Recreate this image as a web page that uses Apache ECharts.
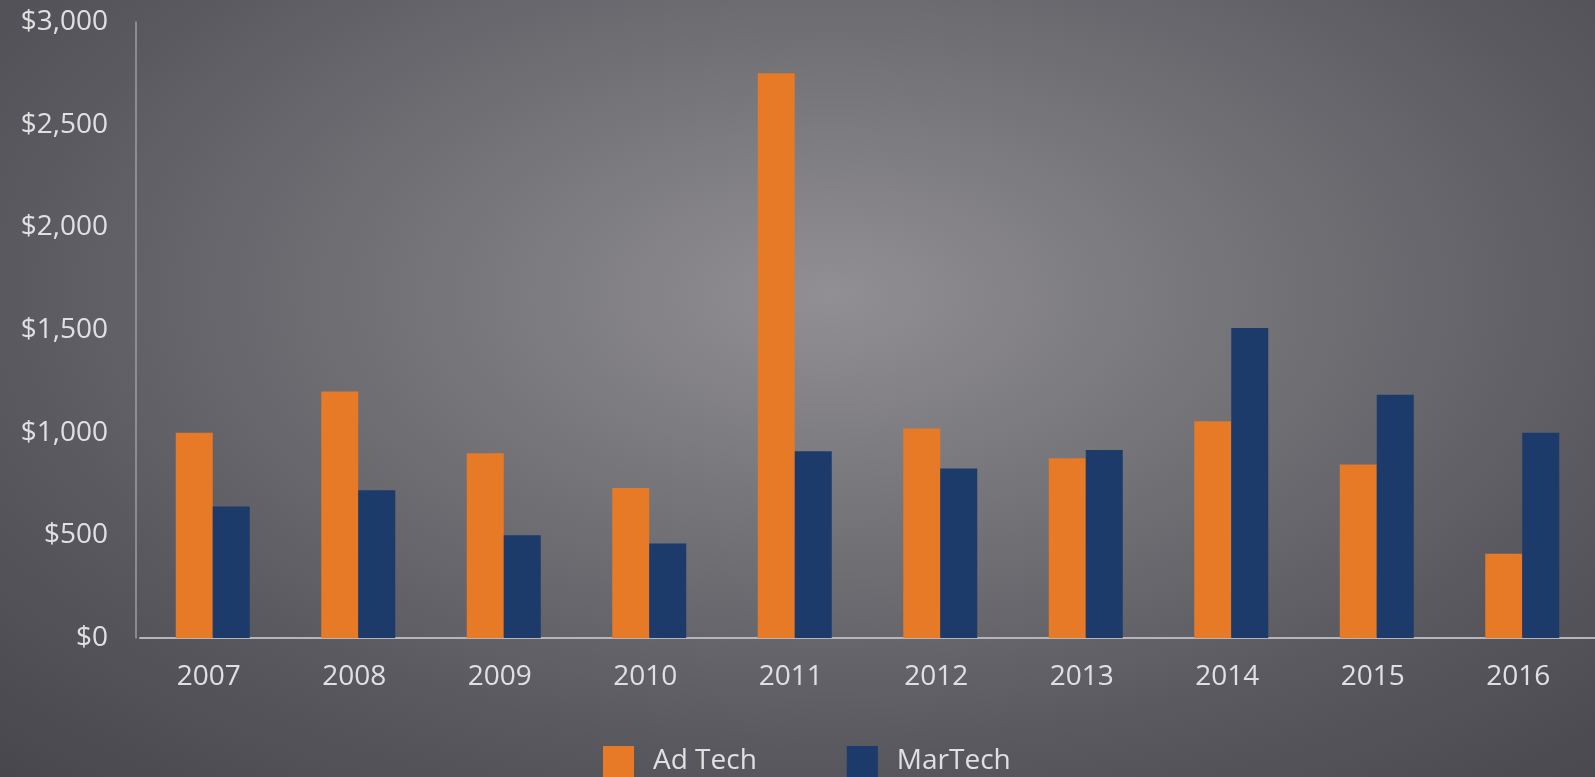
<!DOCTYPE html>
<html>
<head>
<meta charset="utf-8">
<script src="https://cdn.jsdelivr.net/npm/echarts@6/dist/echarts.min.js"></script>
<style>
html,body{margin:0;padding:0;}
#chart{width:1595px;height:777px;background:radial-gradient(ellipse 75% 85% at 52% 38%, #918f94 0%, #747378 35%, #59585e 70%, #48474d 100%);}
</style>
</head>
<body>
<div id="chart"></div>
<script>
const years = ['2007','2008','2009','2010','2011','2012','2013','2014','2015','2016'];
const adTech = [1000, 1200, 900, 730, 2750, 1020, 875, 1055, 845, 410];
const marTech = [640, 720, 500, 460, 910, 825, 915, 1510, 1185, 1000];
const yTicks = [0, 500, 1000, 1500, 2000, 2500, 3000];

const chart = echarts.init(document.getElementById('chart'));
const font = '"Open Sans", sans-serif';
chart.setOption({
  backgroundColor: 'transparent',
  animation: false,
  textStyle: {fontFamily: font},
  grid: {left: 140, right: -2, top: 22, bottom: 139, containLabel: false},
  legend: {
    bottom: -5, left: 598,
    itemWidth: 31, itemHeight: 31, itemGap: 90,
    icon: 'rect',
    textStyle: {color: '#e0e0e2', fontSize: 28, fontFamily: font, padding: [0,0,0,14]},
    data: ['Ad Tech', 'MarTech']
  },
  xAxis: {
    type: 'category', data: years,
    axisLine: {lineStyle: {color: '#b5b5ba', width: 2}},
    axisTick: {show: false},
    axisLabel: {color: '#e0e0e2', fontSize: 28, margin: 25, fontFamily: font, padding: [0, 8, 0, 0]}
  },
  yAxis: {
    type: 'value', min: yTicks[0], max: yTicks[yTicks.length-1], interval: 500,
    offset: 4,
    axisLine: {show: true, lineStyle: {color: '#9d9ca2', width: 1.5}},
    axisTick: {show: false},
    splitLine: {show: false},
    axisLabel: {color: '#e0e0e2', fontSize: 28, margin: 28, fontFamily: font,
      formatter: v => '$' + v.toLocaleString('en-US')}
  },
  series: [
    {name: 'Ad Tech', type: 'bar', data: adTech, barWidth: 37, barGap: '0%', itemStyle: {color: '#e77a26'}},
    {name: 'MarTech', type: 'bar', data: marTech, barWidth: 37, barGap: '0%', itemStyle: {color: '#1c3a6a'}}
  ]
});
</script>
</body>
</html>
